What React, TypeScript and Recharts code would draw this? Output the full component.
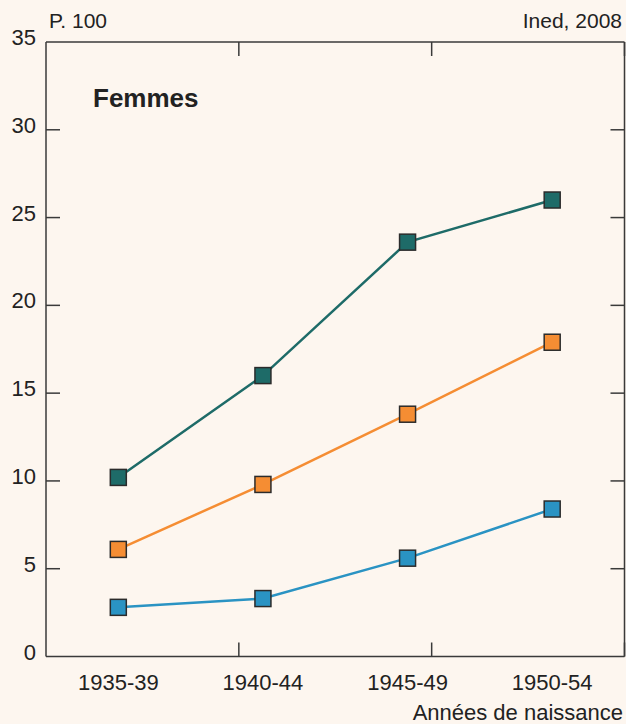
import { Line, LineChart, XAxis, YAxis } from 'recharts';

const CATEGORIES = ['1935-39', '1940-44', '1945-49', '1950-54'];
const TEAL_VALUES = [10.2, 16.0, 23.6, 26.0];
const ORANGE_VALUES = [6.1, 9.8, 13.8, 17.9];
const BLUE_VALUES = [2.8, 3.3, 5.6, 8.4];
const Y_TICKS = [0, 5, 10, 15, 20, 25, 30, 35];
const INNER_Y_TICKS = [5, 10, 15, 20, 25, 30];

const BG = '#fdf6ef';
const AXIS = '#3a3a3a';
const FONT = '"Liberation Sans", Arial, sans-serif';

const data = CATEGORIES.map((cat, i) => ({
  pos: i + 0.5,
  cat,
  teal: TEAL_VALUES[i],
  orange: ORANGE_VALUES[i],
  blue: BLUE_VALUES[i],
}));

function SquareDot(props: any) {
  const { cx, cy, fill } = props;
  if (cx == null || cy == null) return null;
  return (
    <rect
      x={cx - 8}
      y={cy - 8}
      width={16}
      height={16}
      fill={fill}
      stroke="#2b2b2b"
      strokeWidth={1.5}
    />
  );
}

function XTick(props: any) {
  const { x, y, payload } = props;
  const label = CATEGORIES[Math.floor(payload.value)];
  return (
    <text x={x} y={y + 31} textAnchor="middle" fontSize={22} fill="#222" fontFamily={FONT}>
      {label}
    </text>
  );
}

function YTick(props: any) {
  const { x, y, payload } = props;
  return (
    <text x={x} y={y + 3} textAnchor="end" fontSize={22} fill="#222" fontFamily={FONT}>
      {payload.value}
    </text>
  );
}

// tick marks only, no labels
const noLabel = () => <g />;

export default function App() {
  const axisLine = { stroke: AXIS, strokeWidth: 1.5 };
  const tickLine = { stroke: AXIS, strokeWidth: 1.5 };
  return (
    <div style={{ position: 'absolute', left: 0, top: 0, width: 626, height: 724, background: BG }}>
      <LineChart
        width={626}
        height={724}
        data={data}
        margin={{ top: 42, right: 1.5, bottom: 0, left: 0 }}
      >
        <XAxis
          xAxisId="lab"
          dataKey="pos"
          type="number"
          domain={[0, 4]}
          ticks={[0.5, 1.5, 2.5, 3.5]}
          interval={0}
          height={67.5}
          axisLine={axisLine}
          tickLine={false}
          tickSize={0}
          tick={(p: any) => <XTick {...p} />}
        />
        <XAxis
          xAxisId="bot"
          type="number"
          domain={[0, 4]}
          allowDataOverflow
          ticks={[1, 2, 3]}
          interval={0}
          mirror
          tickSize={14}
          axisLine={false}
          tickLine={tickLine}
          tick={noLabel}
        />
        <XAxis
          xAxisId="top"
          orientation="top"
          type="number"
          domain={[0, 4]}
          allowDataOverflow
          ticks={[1, 2, 3]}
          interval={0}
          mirror
          tickSize={14}
          axisLine={axisLine}
          tickLine={tickLine}
          tick={noLabel}
        />
        <YAxis
          yAxisId="l"
          type="number"
          domain={[0, 35]}
          allowDataOverflow
          ticks={Y_TICKS}
          interval={0}
          width={46}
          axisLine={axisLine}
          tickLine={false}
          tickSize={0}
          tickMargin={10}
          tick={(p: any) => <YTick {...p} />}
        />
        <YAxis
          yAxisId="li"
          type="number"
          domain={[0, 35]}
          allowDataOverflow
          ticks={INNER_Y_TICKS}
          interval={0}
          mirror
          tickSize={14}
          axisLine={false}
          tickLine={tickLine}
          tick={noLabel}
        />
        <YAxis
          yAxisId="r"
          orientation="right"
          type="number"
          domain={[0, 35]}
          allowDataOverflow
          ticks={INNER_Y_TICKS}
          interval={0}
          mirror
          tickSize={14}
          axisLine={axisLine}
          tickLine={tickLine}
          tick={noLabel}
        />
        <Line
          xAxisId="lab"
          yAxisId="l"
          dataKey="teal"
          stroke="#1e6b68"
          strokeWidth={2.5}
          dot={(p: any) => <SquareDot key={`t${p.index}`} {...p} fill="#1e6b68" />}
          isAnimationActive={false}
        />
        <Line
          xAxisId="lab"
          yAxisId="l"
          dataKey="orange"
          stroke="#f58d33"
          strokeWidth={2.5}
          dot={(p: any) => <SquareDot key={`o${p.index}`} {...p} fill="#f58d33" />}
          isAnimationActive={false}
        />
        <Line
          xAxisId="lab"
          yAxisId="l"
          dataKey="blue"
          stroke="#2a93c3"
          strokeWidth={2.5}
          dot={(p: any) => <SquareDot key={`b${p.index}`} {...p} fill="#2a93c3" />}
          isAnimationActive={false}
        />
        <text x={49} y={28} fontSize={21} fill="#222" fontFamily={FONT}>
          P. 100
        </text>
        <text x={622} y={28} textAnchor="end" fontSize={21} fill="#222" fontFamily={FONT}>
          Ined, 2008
        </text>
        <text x={93} y={107} fontSize={26} fontWeight="bold" fill="#222" fontFamily={FONT}>
          Femmes
        </text>
        <text x={623} y={720} textAnchor="end" fontSize={22} fill="#222" fontFamily={FONT}>
          Années de naissance
        </text>
      </LineChart>
    </div>
  );
}
